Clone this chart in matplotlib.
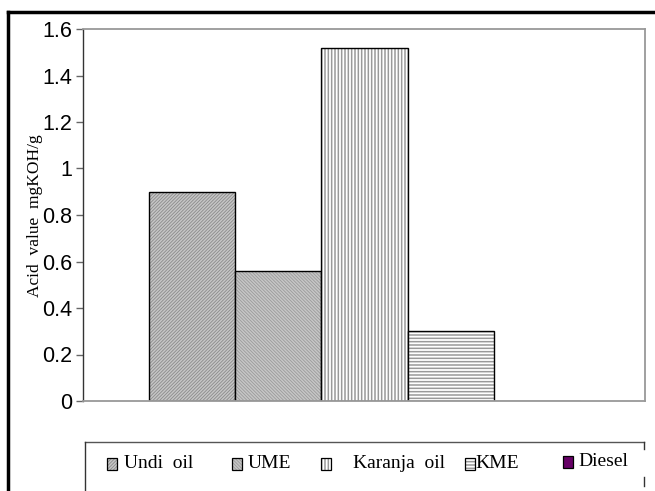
import numpy as np
import matplotlib
matplotlib.use("Agg")
from matplotlib import pyplot as plt
from matplotlib.lines import Line2D
from matplotlib.patches import Rectangle

# data
labels = ["Undi oil", "UME", "Karanja oil", "KME", "Diesel"]
acid_value = [0.90, 0.56, 1.52, 0.30, 0.0]
yticks = [0, 0.2, 0.4, 0.6, 0.8, 1, 1.2, 1.4, 1.6]
ytick_labels = ["0", "0.2", "0.4", "0.6", "0.8", "1", "1.2", "1.4", "1.6"]

# fill, hatch, hatch colour, hatch width per bar
fills = ["#c6c6c6", "#c6c6c6", "white", "white", "#660066"]
hatches = ["/" * 10, "\\" * 10, "|||||", "-----", None]
hatch_cols = ["#8a8a8a", "#9a9a9a", "#999999", "#999999", "#660066"]
hatch_lw = [0.6, 0.6, 1.1, 1.1, 1.0]

W, H = 655, 491
fig = plt.figure(figsize=(6.55, 4.91), dpi=100)
ax = fig.add_axes([83/W, 1-401/H, (645-83)/W, (401-29)/H])


def hatched(p, i):
    if hasattr(p, "set_hatch_linewidth"):
        p.set_hatch_linewidth(hatch_lw[i])


x = np.arange(len(labels))
for i in range(len(labels)):
    with plt.rc_context({"hatch.linewidth": hatch_lw[i]}):
        bars = ax.bar(x[i], acid_value[i], width=1.0, color=fills[i], hatch=hatches[i],
                      edgecolor=hatch_cols[i], linewidth=0)
    for b in bars:
        hatched(b, i)
    ax.bar(x[i], acid_value[i], width=1.0, fill=False, edgecolor="black", linewidth=1.0)

ax.set_xlim(-1.266, 5.254)
ax.set_ylim(0, 1.6)
ax.set_xticks([])
ax.set_yticks(yticks)
ax.set_yticklabels(ytick_labels, fontfamily="Liberation Sans", fontsize=15.5)
ax.tick_params(axis="y", direction="out", length=5, width=1, color="#666666", pad=3)

ax.spines["left"].set_color("#333333")
ax.spines["left"].set_linewidth(1.0)
for s in ["top", "right", "bottom"]:
    ax.spines[s].set_color("#999999")
    ax.spines[s].set_linewidth(1.3)

fig.text(35/W, 1-216/H, "Acid  value  mgKOH/g", rotation=90, ha="center", va="center",
         fontfamily="Liberation Serif", fontsize=12.5)

# outer frame (top and left only visible)
fig.add_artist(Line2D([8/W, 1], [1-12/H, 1-12/H], color="black", lw=2.5, transform=fig.transFigure))
fig.add_artist(Line2D([8/W, 8/W], [0, 1-12/H], color="black", lw=2.5, transform=fig.transFigure))

# legend box, cut off at the bottom
fig.add_artist(Line2D([85/W, 644/W], [1-442/H, 1-442/H], color="#555555", lw=1.0, transform=fig.transFigure))
fig.add_artist(Line2D([85/W, 85/W], [0, 1-442/H], color="#333333", lw=1.0, transform=fig.transFigure))
fig.add_artist(Line2D([644/W, 644/W], [1-449/H, 1-442/H], color="#333333", lw=1.0, transform=fig.transFigure))
fig.add_artist(Line2D([644/W, 644/W], [1-486/H, 1-477/H], color="#333333", lw=1.0, transform=fig.transFigure))

patch_x = [107, 232, 321, 465, 563]
text_x = [124, 248, 353, 475, 578]
text_y = [463, 463, 463, 463, 461]
for i in range(len(labels)):
    y0 = 1 - (text_y[i] + 7) / H
    with plt.rc_context({"hatch.linewidth": hatch_lw[i]}):
        r = Rectangle((patch_x[i]/W, y0), 10/W, 12/H, transform=fig.transFigure,
                      facecolor=fills[i], hatch=hatches[i], edgecolor=hatch_cols[i], linewidth=0)
    hatched(r, i)
    fig.add_artist(r)
    fig.add_artist(Rectangle((patch_x[i]/W, y0), 10/W, 12/H, transform=fig.transFigure,
                             fill=False, edgecolor="black", linewidth=0.9))
    txt = labels[i].replace(" ", "  ")
    fig.text(text_x[i]/W, 1-text_y[i]/H, txt, ha="left", va="center",
             fontfamily="Liberation Serif", fontsize=14)

fig.savefig("out.png", dpi=100)
